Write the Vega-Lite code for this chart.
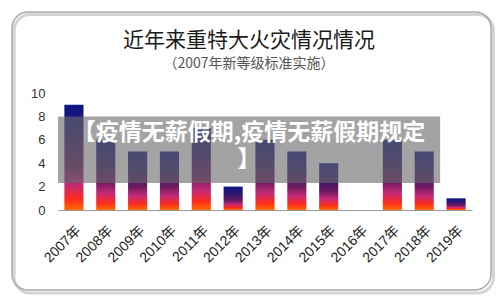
{
  "$schema": "https://vega.github.io/schema/vega-lite/v6.json",
  "width": 414,
  "height": 117,
  "autosize": "none",
  "padding": {"left": 58, "top": 93, "right": 28, "bottom": 90},
  "background": "white",
  "config": {"view": {"stroke": null}},
  "title": {
    "text": "近年来重特大火灾情况情况",
    "subtitle": "（2007年新等级标准实施）",
    "frame": "group",
    "font": "Noto Sans CJK SC",
    "fontSize": 21,
    "fontWeight": "normal",
    "color": "#1a1a1a",
    "subtitleFont": "Noto Sans CJK SC",
    "subtitleFontSize": 14,
    "subtitleColor": "#555555",
    "subtitlePadding": 6,
    "anchor": "middle",
    "offset": -60,
    "dx": -16
  },
  "datasets": {
    "fires": [
      {"year": "2007年", "count": 9},
      {"year": "2008年", "count": 6},
      {"year": "2009年", "count": 5},
      {"year": "2010年", "count": 5},
      {"year": "2011年", "count": 7},
      {"year": "2012年", "count": 2},
      {"year": "2013年", "count": 6},
      {"year": "2014年", "count": 5},
      {"year": "2015年", "count": 4},
      {"year": "2016年", "count": 0},
      {"year": "2017年", "count": 6},
      {"year": "2018年", "count": 5},
      {"year": "2019年", "count": 1}
    ],
    "frame": [{"fx0": -0.111, "fx1": 1.046, "fy0": -0.684, "fy1": 1.692}],
    "shadow": [{"fx0": -0.106, "fx1": 1.052, "fy0": -0.71, "fy1": 1.67}],
    "banner": [{"bx0": 0, "bx1": 12, "by0": 2.3, "by1": 8.0}],
    "caption": [{"tx": 6, "ty": 6.6, "label": "【疫情无薪假期,疫情无薪假期规定\n】"}]
  },
  "layer": [
    {
      "data": {"name": "shadow"},
      "mark": {"type": "rect", "fill": null, "stroke": "#d4d4d4", "strokeWidth": 3, "cornerRadius": 16, "clip": false},
      "encoding": {
        "x": {"field": "fx0", "type": "quantitative", "scale": {"domain": [0, 1]}, "axis": null},
        "x2": {"field": "fx1"},
        "y": {"field": "fy0", "type": "quantitative", "scale": {"domain": [0, 1]}, "axis": null},
        "y2": {"field": "fy1"}
      }
    },
    {
      "data": {"name": "frame"},
      "mark": {"type": "rect", "fill": null, "stroke": "#a8a8a8", "strokeWidth": 1.5, "cornerRadius": 16, "clip": false},
      "encoding": {
        "x": {"field": "fx0", "type": "quantitative", "scale": {"domain": [0, 1]}, "axis": null},
        "x2": {"field": "fx1"},
        "y": {"field": "fy0", "type": "quantitative", "scale": {"domain": [0, 1]}, "axis": null},
        "y2": {"field": "fy1"}
      }
    },
    {
      "data": {"name": "fires"},
      "mark": {
        "type": "bar",
        "fill": {
          "gradient": "linear",
          "x1": 0, "y1": 0, "x2": 0, "y2": 1,
          "stops": [
            {"offset": 0, "color": "#0c1687"},
            {"offset": 0.3, "color": "#2c1670"},
            {"offset": 0.6, "color": "#6c1a60"},
            {"offset": 0.76, "color": "#c42a78"},
            {"offset": 0.9, "color": "#ff2b1c"},
            {"offset": 1, "color": "#ff6c00"}
          ]
        }
      },
      "encoding": {
        "x": {
          "field": "year", "type": "nominal", "sort": null,
          "scale": {"paddingInner": 0.4, "paddingOuter": 0.2},
          "axis": {
            "title": null, "labelAngle": -45, "labelFontSize": 14,
            "labelFont": "Liberation Sans, Noto Sans CJK SC", "labelColor": "#222222",
            "ticks": false, "labelPadding": 13, "domainColor": "#9a9a9a", "domainWidth": 1.2
          }
        },
        "y": {
          "field": "count", "type": "quantitative",
          "scale": {"domain": [0, 10]},
          "axis": {
            "title": null, "values": [0, 2, 4, 6, 8, 10], "labelFontSize": 13,
            "labelFont": "Liberation Sans", "labelColor": "#333333",
            "ticks": false, "domain": false, "labelPadding": 13,
            "gridColor": "#c4c4c4", "gridWidth": 1
          }
        }
      }
    },
    {
      "data": {"name": "banner"},
      "mark": {"type": "rect", "fill": "#6a6a6a", "opacity": 0.62},
      "encoding": {
        "x": {"field": "bx0", "type": "quantitative", "scale": {"domain": [0, 13]}, "axis": null},
        "x2": {"field": "bx1"},
        "y": {"field": "by0", "type": "quantitative", "scale": {"domain": [0, 10]}, "axis": null},
        "y2": {"field": "by1"}
      }
    },
    {
      "data": {"name": "caption"},
      "mark": {"type": "text", "font": "Noto Sans CJK SC", "fontSize": 23, "fontWeight": "bold", "color": "white", "lineBreak": "\n", "lineHeight": 27, "align": "center", "baseline": "middle"},
      "encoding": {
        "x": {"field": "tx", "type": "quantitative", "scale": {"domain": [0, 13]}, "axis": null},
        "y": {"field": "ty", "type": "quantitative", "scale": {"domain": [0, 10]}, "axis": null},
        "text": {"field": "label"}
      }
    }
  ],
  "resolve": {"scale": {"x": "independent", "y": "independent"}}
}
